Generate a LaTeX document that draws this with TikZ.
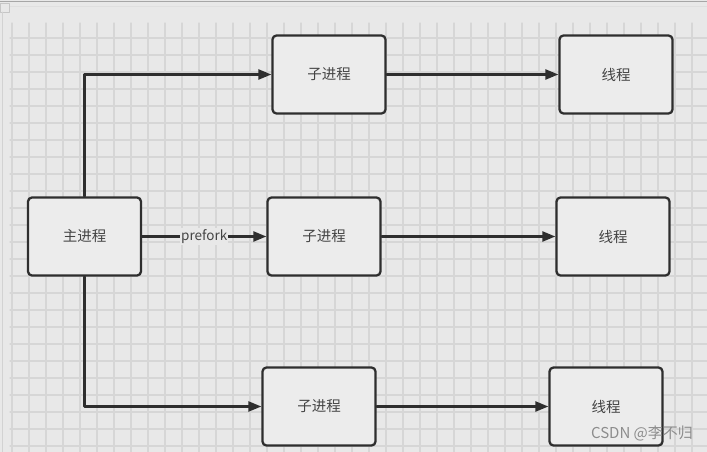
\documentclass[tikz,border=0pt]{standalone}
\usepackage{fontspec}
\setmainfont{Noto Sans CJK SC}
\usetikzlibrary{arrows.meta}

\definecolor{bggray}{HTML}{E8E8E8}
\definecolor{gridgray}{HTML}{D6D6D6}
\definecolor{boxfill}{HTML}{ECECEC}
\definecolor{linegray}{HTML}{2E2E2E}
\definecolor{textgray}{HTML}{444444}

\tikzset{
  proc/.style={draw=linegray, fill=boxfill, line width=2.3pt, rounded corners=4pt,
    minimum width=113pt, minimum height=78pt, inner sep=0pt,
    text=textgray, font=\fontsize{14.5}{16}\selectfont},
  link/.style={draw=linegray, line width=2.3pt, -{Triangle[length=13pt,width=10pt]}},
  edgelabel/.style={fill=bggray, inner sep=1pt, text=textgray, font=\fontsize{13.5}{15}\selectfont},
}

\begin{document}
\begin{tikzpicture}[x=1pt, y=-1pt, line cap=round, line join=round]
  % sfondo
  \fill[bggray] (0,0) rectangle (707,452);
  \useasboundingbox (0,0) rectangle (707,452);
  \draw[gray!70, line width=1pt] (0,2) -- (707,2);
  \draw[gray!25, line width=1pt] (10,7) -- (707,7);
  \draw[gray!45, line width=0.8pt] (0,3) rectangle (9,12);
  \draw[gray!35, line width=0.8pt] (2,12) -- (2,452);

  % griglia
  \foreach \gx in {12,29,...,700}
    \draw[gridgray, line width=1.2pt] (\gx,23) -- (\gx,452);
  \foreach \gy in {38,55,...,452}
    \draw[gridgray, line width=1.2pt] (10,\gy) -- (707,\gy);

  % processi
  \node[proc] (main) at (84.5,236.5) {主进程};
  \node[proc] (sub1) at (329,74.5) {子进程};
  \node[proc] (sub2) at (324,236.5) {子进程};
  \node[proc] (sub3) at (319,406.5) {子进程};

  % thread
  \node[proc] (thr1) at (616,74.5) {线程};
  \node[proc] (thr2) at (613,236.5) {线程};
  \node[proc] (thr3) at (606,406.5) {线程};

  % frecce
  \draw[link] (main.north) |- (sub1);
  \draw[link] (main) -- node[edgelabel] {prefork} (sub2);
  \draw[link] (main.south) |- (sub3);
  \draw[link] (sub1) -- (thr1);
  \draw[link] (sub2) -- (thr2);
  \draw[link] (sub3) -- (thr3);

  % watermark
  \node[text=gray!90, font=\fontsize{15}{17}\selectfont] (wm) at (642,433) {CSDN @李不归};
\end{tikzpicture}
\end{document}
